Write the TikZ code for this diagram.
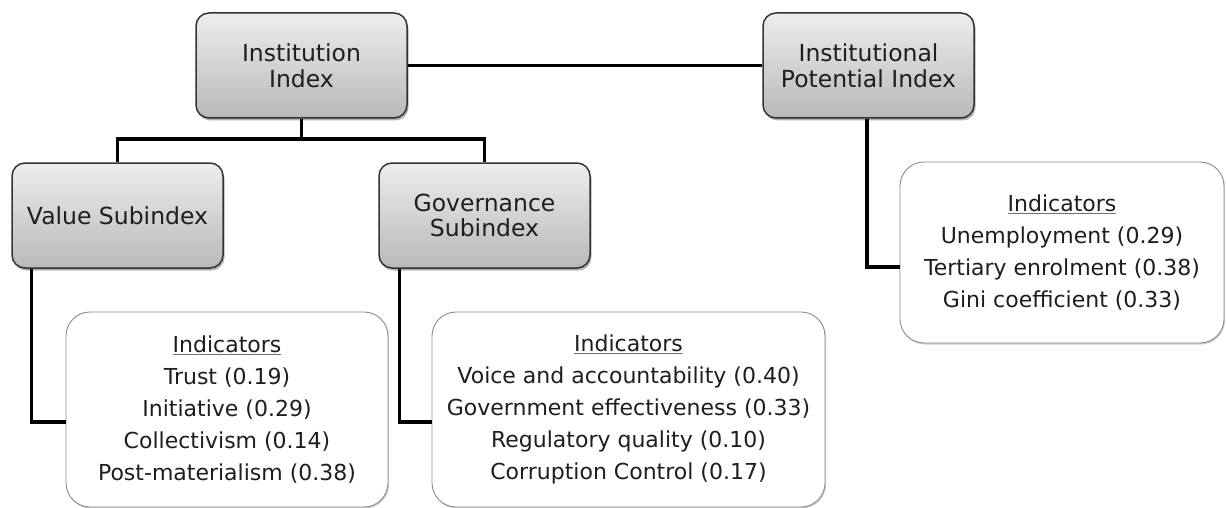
\documentclass[tikz,border=0pt]{standalone}
\usepackage{fontspec}
\setmainfont{DejaVu Sans}
\usetikzlibrary{shadows}
\definecolor{bordergray}{HTML}{333333}
\definecolor{gtop}{HTML}{EDEDED}
\definecolor{gbot}{HTML}{B9B9B9}
\definecolor{indborder}{HTML}{8C8C8C}
\definecolor{txt}{HTML}{1E1E1E}
\definecolor{ulgray}{HTML}{707070}
\newcommand{\indhead}{{\color{ulgray}\underline{\color{txt}Indicators}}}
\begin{document}
\begin{tikzpicture}[x=1pt,y=-1pt,
  mainbox/.style={draw=bordergray, line width=1.5pt, rounded corners=13pt,
    top color=gtop, bottom color=gbot, minimum width=211pt, minimum height=105pt,
    align=center, text=txt, font=\fontsize{23.5}{25.5}\selectfont, inner sep=0pt,
    drop shadow={shadow xshift=1.5pt, shadow yshift=-2.5pt, opacity=0.3, fill=black}},
  indbox/.style={draw=indborder, line width=0.9pt, rounded corners=24pt,
    fill=white, align=center, text=txt, font=\fontsize{22}{32}\selectfont, inner sep=0pt,
    drop shadow={shadow xshift=1pt, shadow yshift=-1.5pt, opacity=0.2, fill=black}},
  conn/.style={line width=3.5pt, draw=black}]
\useasboundingbox (0,0) rectangle (1226,508);
% main boxes
\node[mainbox] (ii) at (301.5,65.5) {Institution\\Index};
\node[mainbox] (ipi) at (868.5,65.5) {Institutional\\Potential Index};
\node[mainbox] (vs) at (117.5,215.5) {Value Subindex};
\node[mainbox] (gs) at (484.5,215.5) {Governance\\Subindex};
% indicator boxes
\node[indbox, minimum width=322pt, minimum height=195pt] (vi) at (227,409.5)
  {\indhead\\Trust (0.19)\\Initiative (0.29)\\Collectivism (0.14)\\Post-materialism (0.38)};
\node[indbox, minimum width=393pt, minimum height=195pt] (gi) at (628.5,409.5)
  {\indhead\\Voice and accountability (0.40)\\Government effectiveness (0.33)\\Regulatory quality (0.10)\\Corruption Control (0.17)};
\node[indbox, minimum width=324pt, minimum height=181pt] (pi) at (1062,252.5)
  {\indhead\\Unemployment (0.29)\\Tertiary enrolment (0.38)\\Gini coefficient (0.33)};
% connectors
\coordinate (split) at (301.5,139);
\draw[conn] (ii.east) -- (ipi.west);
\draw[conn] (ii.south) -- (split);
\draw[conn] (vs.north) |- (split) -| (gs.north);
\draw[conn] ([xshift=20pt]vs.south west) |- ([yshift=-12.5pt]vi.west);
\draw[conn] ([xshift=21pt]gs.south west) |- ([yshift=-12.5pt]gi.west);
\draw[conn] ([xshift=-1.5pt]ipi.south) |- ([yshift=-14.5pt]pi.west);
\end{tikzpicture}
\end{document}
